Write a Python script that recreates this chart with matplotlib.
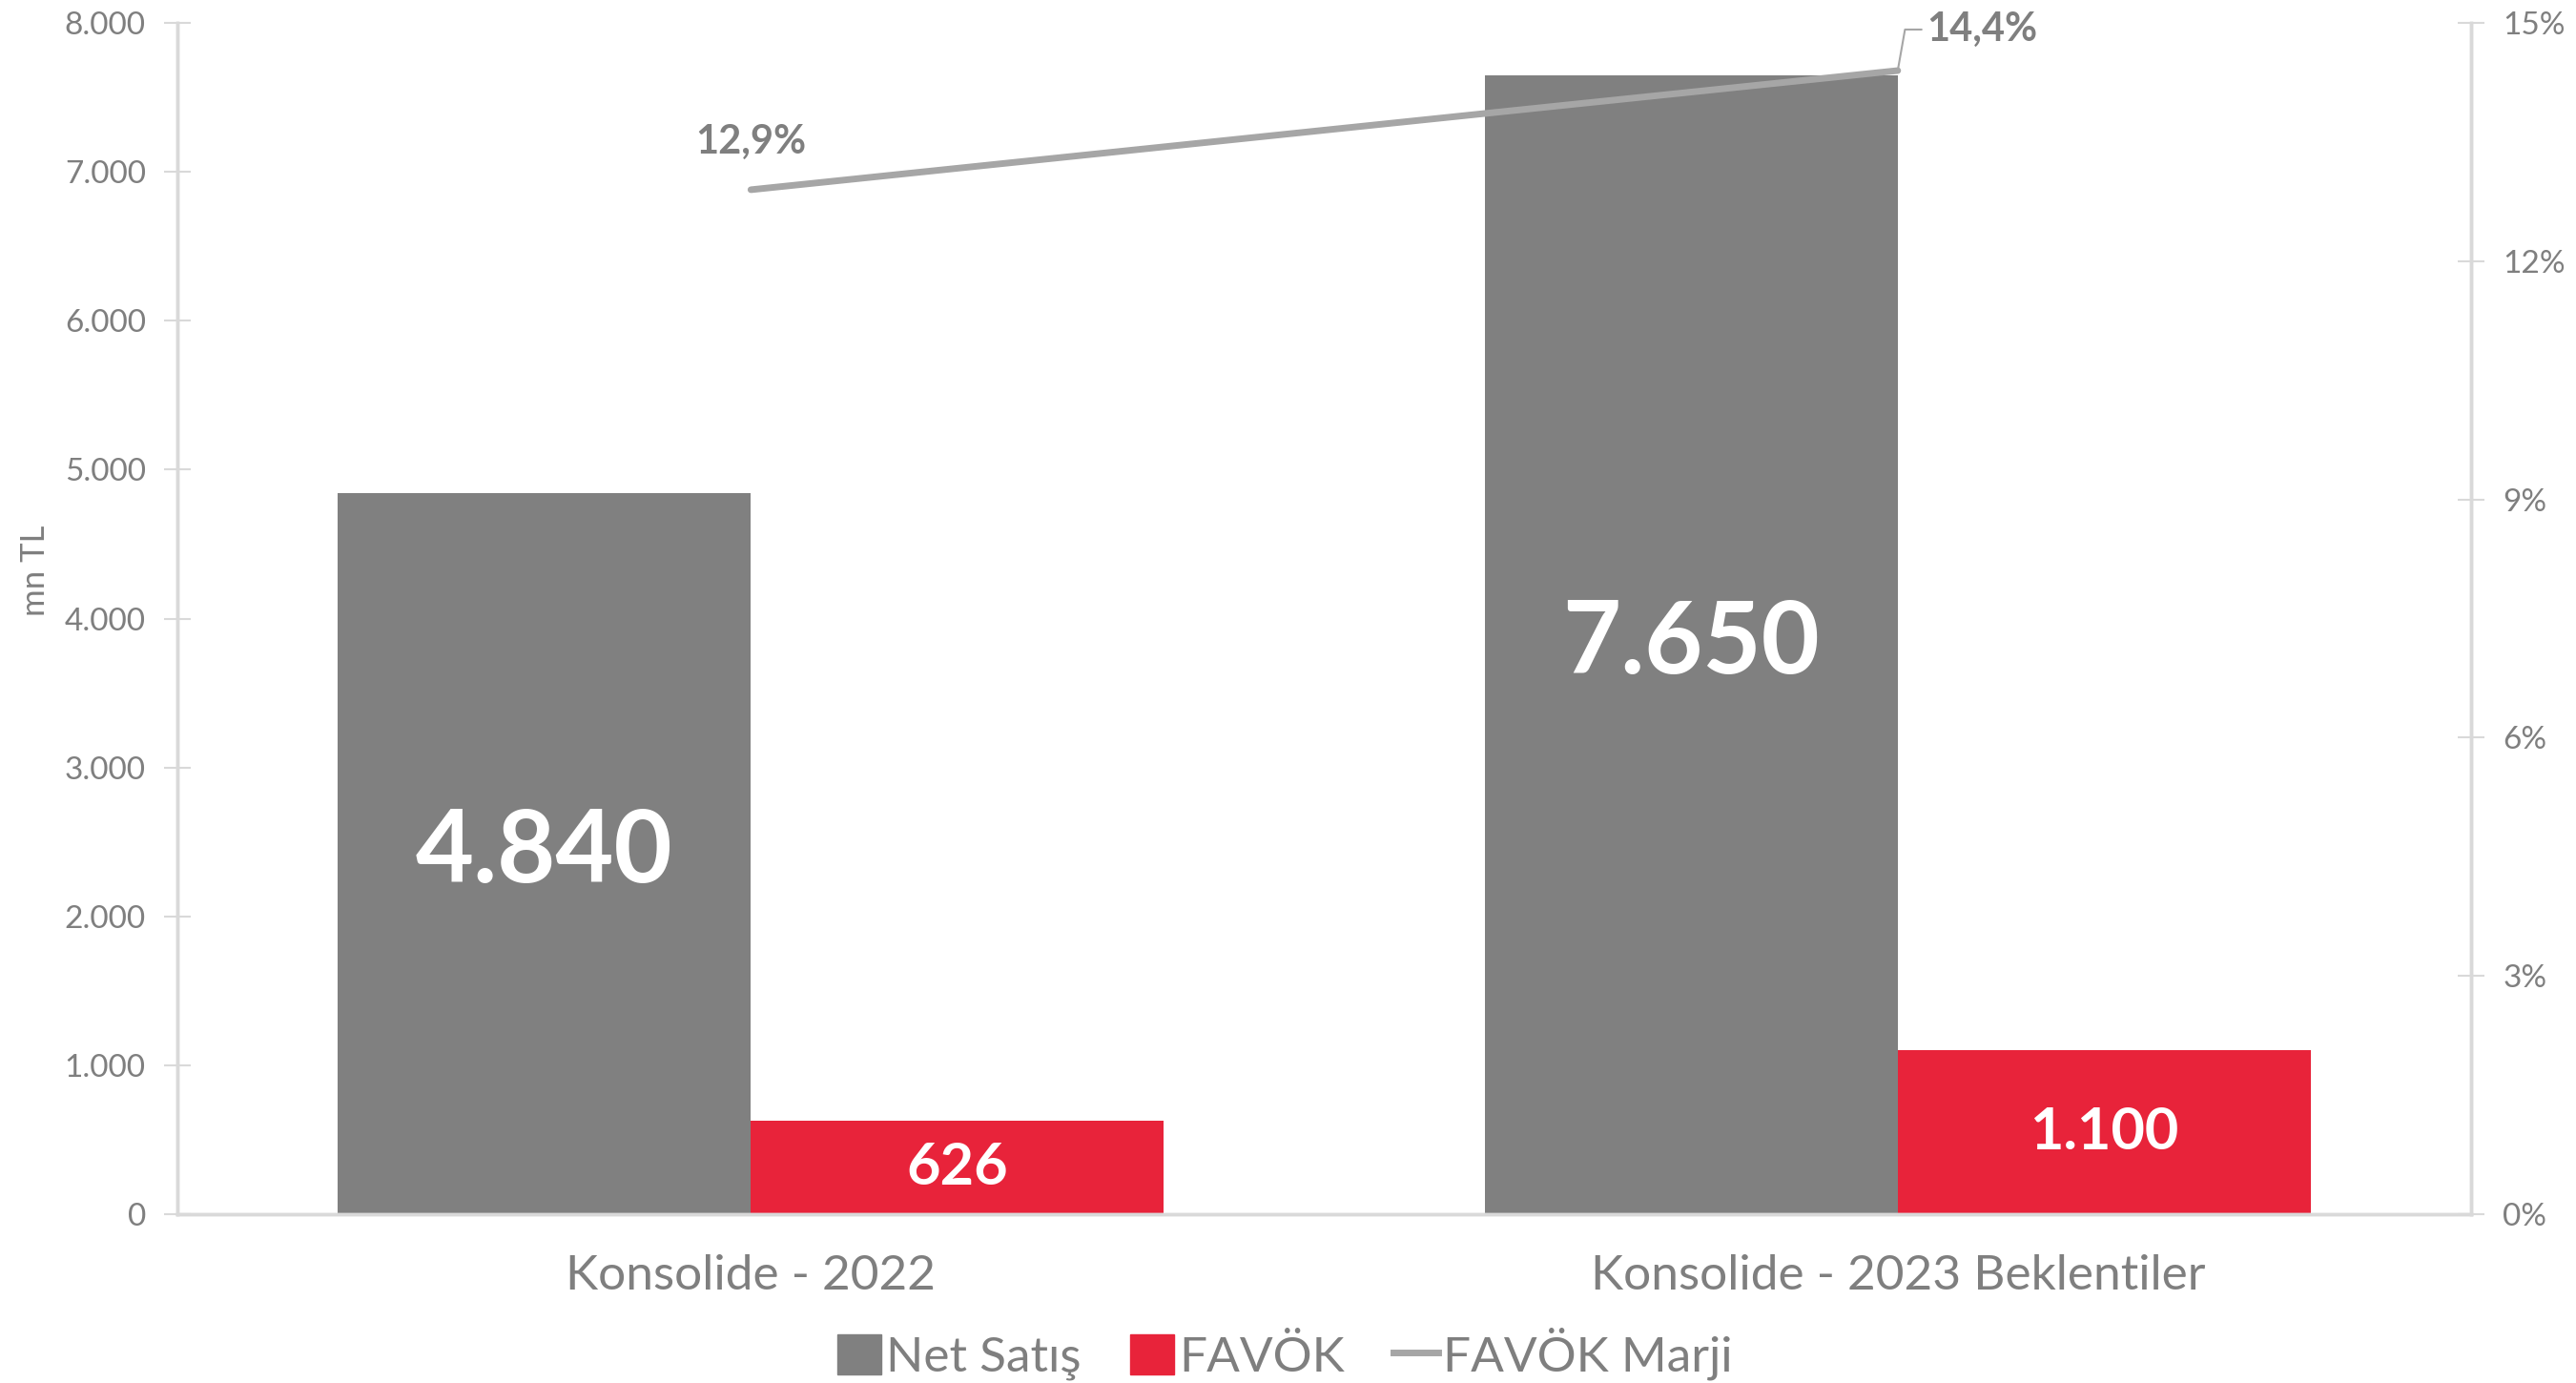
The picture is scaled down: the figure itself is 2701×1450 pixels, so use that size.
import matplotlib.pyplot as plt
import numpy as np
from matplotlib.lines import Line2D
from matplotlib.patches import Patch
from matplotlib.ticker import FuncFormatter

categories = ["Konsolide - 2022", "Konsolide - 2023 Beklentiler"]
net_satis = [4840, 7650]
favok = [626, 1100]
favok_marji = [12.9, 14.4]

net_labels = ["4.840", "7.650"]
favok_labels = ["626", "1.100"]
marji_labels = ["12,9%", "14,4%"]

GRAY = "#808080"
RED = "#e8233a"
LINE = "#a6a6a6"
TXT = "#7f7f7f"
AX = "#d9d9d9"

plt.rcParams["font.family"] = ["Lato", "DejaVu Sans"]

fig = plt.figure(figsize=(27.01, 14.5), dpi=100)
ax = fig.add_axes([0.0689, 0.1221, 0.8904, 0.8613])
ax2 = ax.twinx()

x = np.arange(len(categories))
w = 0.36
b1 = ax.bar(x - w / 2, net_satis, w, color=GRAY, zorder=2)
b2 = ax.bar(x + w / 2, favok, w, color=RED, zorder=2)

ax.set_xlim(-0.5, 1.5)
ax.set_ylim(0, 8000)
ax.set_yticks(range(0, 8001, 1000))
ax.yaxis.set_major_formatter(FuncFormatter(lambda v, p: f"{int(v):,}".replace(",", ".")))
ax.set_xticks(x)
ax.set_xticklabels(categories, fontsize=37, color=TXT)
ax.tick_params(axis="x", length=0, pad=30)
ax.tick_params(axis="y", direction="inout", length=20, width=1.5, color=AX,
               labelsize=24, labelcolor=TXT, pad=14)
ax.set_ylabel("mn TL", fontsize=25, color=TXT, va="center")
ax.yaxis.set_label_coords(-0.062, 0.54)

ax2.set_ylim(0, 15)
ax2.set_yticks(range(0, 16, 3))
ax2.yaxis.set_major_formatter(FuncFormatter(lambda v, p: f"{int(v)}%"))
ax2.tick_params(axis="y", direction="inout", length=20, width=1.5, color=AX,
                labelsize=24, labelcolor=TXT, pad=14)

for a in (ax, ax2):
    a.spines["top"].set_visible(False)
    for s in ("left", "right", "bottom"):
        a.spines[s].set_color(AX)
        a.spines[s].set_linewidth(2.5)

# bar value labels
for rect, lab in zip(b1, net_labels):
    ax.text(rect.get_x() + rect.get_width() / 2, rect.get_height() / 2, lab,
            ha="center", va="center", color="white", fontsize=76, fontweight="bold")
for rect, lab in zip(b2, favok_labels):
    ax.text(rect.get_x() + rect.get_width() / 2, rect.get_height() / 2, lab,
            ha="center", va="center", color="white", fontsize=44, fontweight="bold")

# margin line
ax2.plot(x, favok_marji, color=LINE, linewidth=5, solid_capstyle="round", zorder=3)
ax2.annotate(marji_labels[0], (x[0], favok_marji[0]), xytext=(0, 22),
             textcoords="offset points", ha="center", va="bottom",
             fontsize=30, fontweight="bold", color=TXT)
ax2.annotate(marji_labels[1], (x[1], favok_marji[1]), xytext=(22, 31),
             textcoords="offset points", ha="left", va="center",
             fontsize=30, fontweight="bold", color=TXT,
             arrowprops=dict(arrowstyle="-", color=LINE, lw=1.5,
                             shrinkA=2, shrinkB=0, connectionstyle="angle,angleA=0,angleB=80,rad=0"))

handles = [Patch(color=GRAY), Patch(color=RED), Line2D([], [], color=LINE, lw=5)]
fig.legend(handles, ["Net Satış", "FAVÖK", "FAVÖK Marji"], loc="center",
           bbox_to_anchor=(0.4987, 0.021), ncol=3, frameon=False, fontsize=37,
           labelcolor=TXT, handlelength=0.9, handleheight=0.9, handletextpad=0.1,
           columnspacing=1.0)

fig.savefig("out.png", dpi=100)
